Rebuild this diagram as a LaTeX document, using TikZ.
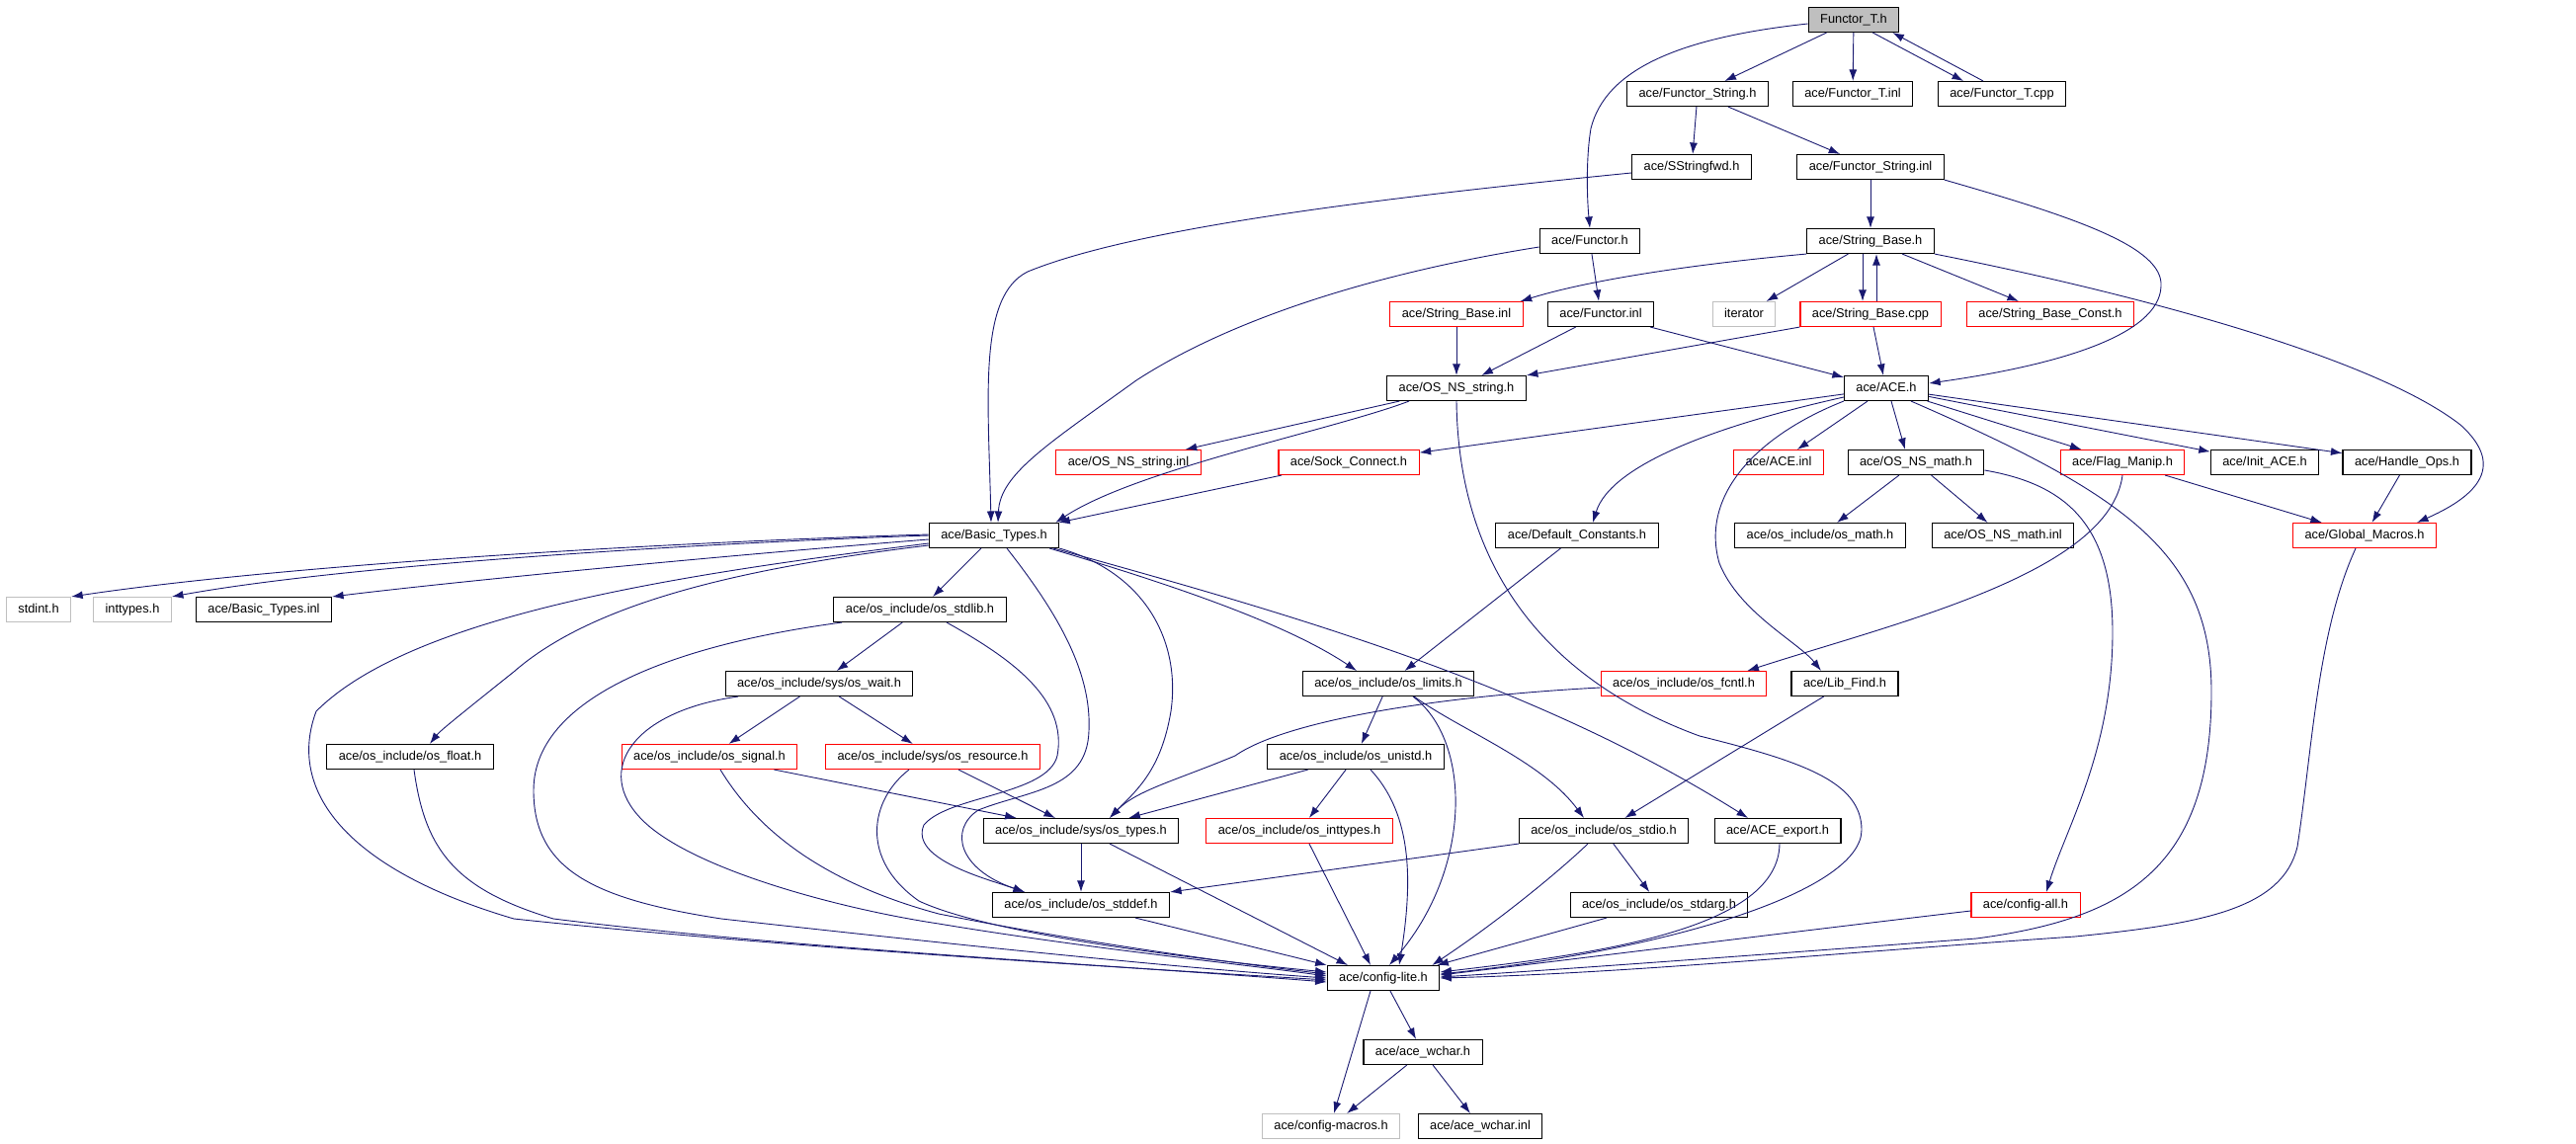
\documentclass[tikz,border=0pt]{standalone}
\usepackage{fontspec}
\setmainfont{Liberation Sans}
\usepackage{tikz}
\usetikzlibrary{arrows.meta}
\definecolor{edgeblue}{HTML}{191970}
\definecolor{extred}{HTML}{FF0000}
\definecolor{sysgray}{HTML}{BFBFBF}

\begin{document}
\begin{tikzpicture}[
		x=1pt, y=-1pt,
		box/.style={
			draw=black,
			line width=1.1pt,
			inner xsep=12pt,
			inner ysep=0pt,
			minimum height=25pt,
			text height=9.5pt,
			text depth=2.7pt,
			font=\fontsize{12.8}{15}\selectfont
		},
		redbox/.style={box, draw=extred},
		graybox/.style={box, draw=sysgray},
		curbox/.style={box, fill=sysgray},
		dep/.style={
			draw=edgeblue,
			line width=0.9pt,
			-{Latex[length=11.5pt,width=8pt]}
		}
		]
		
		\useasboundingbox (0,0) rectangle (2607,1157);
		
		\node[curbox] at (1876, 20) (ft) {Functor\_T.h};
		
		\node[box] at (1718, 95) (fs) {ace/Functor\_String.h};
		\node[box] at (1875, 95) (fti) {ace/Functor\_T.inl};
		\node[box] at (2026, 95) (ftc) {ace/Functor\_T.cpp};
		
		\node[box] at (1712, 169) (ssf) {ace/SStringfwd.h};
		\node[box] at (1893, 169) (fsi) {ace/Functor\_String.inl};
		
		\node[box] at (1609, 244) (fun) {ace/Functor.h};
		\node[box] at (1893, 244) (sb) {ace/String\_Base.h};
		
		\node[redbox] at (1474, 318) (sbi) {ace/String\_Base.inl};
		\node[box] at (1620, 318) (funi) {ace/Functor.inl};
		\node[graybox] at (1765, 318) (iter) {iterator};
		\node[redbox] at (1893, 318) (sbc) {ace/String\_Base.cpp};
		\node[redbox] at (2075, 318) (sbk) {ace/String\_Base\_Const.h};
		
		\node[box] at (1474, 393) (nss) {ace/OS\_NS\_string.h};
		\node[box] at (1909, 393) (ace) {ace/ACE.h};
		
		\node[redbox] at (1142, 468) (nssi) {ace/OS\_NS\_string.inl};
		\node[redbox] at (1365, 468) (sock) {ace/Sock\_Connect.h};
		\node[redbox] at (1800, 468) (acei) {ace/ACE.inl};
		\node[box] at (1939, 468) (nsm) {ace/OS\_NS\_math.h};
		\node[redbox] at (2148, 468) (flag) {ace/Flag\_Manip.h};
		\node[box] at (2292, 468) (iace) {ace/Init\_ACE.h};
		\node[box] at (2436, 468) (hops) {ace/Handle\_Ops.h};
		
		\node[box] at (1006, 542) (bt) {ace/Basic\_Types.h};
		\node[box] at (1596, 542) (defc) {ace/Default\_Constants.h};
		\node[box] at (1842, 542) (osm) {ace/os\_include/os\_math.h};
		\node[box] at (2027, 542) (nsmi) {ace/OS\_NS\_math.inl};
		\node[redbox] at (2393, 542) (gm) {ace/Global\_Macros.h};
		
		\node[graybox] at (39, 617) (stdint) {stdint.h};
		\node[graybox] at (134, 617) (intt) {inttypes.h};
		\node[box] at (267, 617) (bti) {ace/Basic\_Types.inl};
		\node[box] at (931, 617) (stdlib) {ace/os\_include/os\_stdlib.h};
		
		\node[box] at (829, 692) (wait) {ace/os\_include/sys/os\_wait.h};
		\node[box] at (1405, 692) (limits) {ace/os\_include/os\_limits.h};
		\node[redbox] at (1704, 692) (fcntl) {ace/os\_include/os\_fcntl.h};
		\node[box] at (1867, 692) (lib) {ace/Lib\_Find.h};
		
		\node[box] at (415, 766) (float) {ace/os\_include/os\_float.h};
		\node[redbox] at (718, 766) (signal) {ace/os\_include/os\_signal.h};
		\node[redbox] at (944, 766) (res) {ace/os\_include/sys/os\_resource.h};
		\node[box] at (1372, 766) (unistd) {ace/os\_include/os\_unistd.h};
		
		\node[box] at (1094, 841) (types) {ace/os\_include/sys/os\_types.h};
		\node[redbox] at (1315, 841) (intty) {ace/os\_include/os\_inttypes.h};
		\node[box] at (1623, 841) (stdio) {ace/os\_include/os\_stdio.h};
		\node[box] at (1799, 841) (exp) {ace/ACE\_export.h};
		
		\node[box] at (1094, 916) (stddef) {ace/os\_include/os\_stddef.h};
		\node[box] at (1679, 916) (stdarg) {ace/os\_include/os\_stdarg.h};
		\node[redbox] at (2050, 916) (cfgall) {ace/config-all.h};
		
		\node[box] at (1400, 990) (cfg) {ace/config-lite.h};
		\node[box] at (1440, 1065) (wch) {ace/ace\_wchar.h};
		\node[graybox] at (1347, 1140) (macros) {ace/config-macros.h};
		\node[box] at (1498, 1140) (wchi) {ace/ace\_wchar.inl};
		
		\draw[dep] (ft) -- (fs);
		\draw[dep] (ft) -- (fti);
		\draw[dep] ([xshift=-27pt]ft.south east) -- ([xshift=-39pt]ftc.north);
		\draw[dep] ([xshift=-19pt]ftc.north) -- ([xshift=-7pt]ft.south east);
		\draw[dep] ([yshift=-4pt]ft.west) .. controls (1700,38) and (1625,70) .. (1610,130) .. controls (1605,160) and (1606,200) .. (fun.north);
		\draw[dep] (fs) -- (ssf);
		\draw[dep] (fs) -- (fsi);
		\draw[dep] ([yshift=-6pt]ssf.west) .. controls (1400,200) and (1150,230) .. (1040,275) .. controls (990,300) and (1000,400) .. ([xshift=-3pt]bt.north);
		\draw[dep] (fun) -- (funi);
		\draw[dep] ([yshift=-6pt]fun.west) .. controls (1400,275) and (1250,320) .. (1150,385) .. controls (1060,450) and (1012,480) .. ([xshift=4pt]bt.north);
		\draw[dep] (fsi) -- (sb);
		\draw[dep] (fsi.south east) .. controls (2100,220) and (2190,250) .. (2187,290) .. controls (2185,340) and (2080,370) .. ([yshift=5pt]ace.east);
		
		\draw[dep] (sb.south west) .. controls (1740,265) and (1620,280) .. ([xshift=-3pt]sbi.north east);
		\draw[dep] (sb) -- (iter);
		\draw[dep] ([xshift=-8pt]sb.south) -- ([xshift=-8pt]sbc.north);
		\draw[dep] ([xshift=6pt]sbc.north) -- ([xshift=6pt]sb.south);
		\draw[dep] (sb) -- (sbk);
		\draw[dep] (sb.south east) .. controls (2150,295) and (2400,360) .. (2490,430) .. controls (2540,475) and (2500,505) .. ([xshift=-20pt]gm.north east);
		\draw[dep] (sbi) -- (nss);
		\draw[dep] (funi) -- (nss);
		\draw[dep] (funi) -- (ace);
		\draw[dep] (sbc.south west) -- (nss.north east);
		\draw[dep] ([xshift=3pt]sbc.south) -- ([xshift=-3pt]ace.north);
		
		\draw[dep] (nss) -- (nssi);
		\draw[dep] ([xshift=-48pt]nss.south) .. controls (1350,435) and (1150,475) .. ([xshift=-4pt]bt.north east);
		\draw[dep] ([xshift=-68pt]sock.south) -- ([xshift=-1pt]bt.north east);
		\draw[dep] (nss.south) .. controls (1476,580) and (1570,690) .. (1720,745) .. controls (1820,770) and (1884,790) .. (1884,840) .. controls (1884,900) and (1700,960) .. ([yshift=4pt]cfg.east);
		
		\draw[dep] (ace) -- (sock);
		\draw[dep] ([yshift=-9pt]ace.west) .. controls (1740,430) and (1630,470) .. ([xshift=16pt]defc.north);
		\draw[dep] (ace.south west) .. controls (1780,440) and (1720,500) .. (1740,570) .. controls (1760,620) and (1820,650) .. ([xshift=-24pt]lib.north);
		\draw[dep] (ace) -- (acei);
		\draw[dep] ([xshift=5pt]ace.south) -- ([xshift=-11pt]nsm.north);
		\draw[dep] ([xshift=25pt]ace.south) .. controls (2150,500) and (2238,560) .. (2238,700) .. controls (2238,880) and (2150,930) .. (2000,950) .. controls (1800,965) and (1600,980) .. ([yshift=1pt]cfg.east);
		\draw[dep] (ace) -- (flag);
		\draw[dep] (ace) -- (iace);
		\draw[dep] (ace) -- (hops);
		
		\draw[dep] (nsm) -- (osm);
		\draw[dep] (nsm) -- (nsmi);
		\draw[dep] ([yshift=-8pt]nsm.east) .. controls (2090,490) and (2138,530) .. (2138,640) .. controls (2138,760) and (2090,840) .. ([xshift=21pt]cfgall.north);
		\draw[dep] (flag) -- (gm);
		\draw[dep] (flag.south) .. controls (2135,580) and (1920,630) .. ([xshift=-20pt]fcntl.north east);
		\draw[dep] (hops) -- (gm);
		\draw[dep] ([xshift=-9pt]gm.south) .. controls (2345,640) and (2340,760) .. (2325,857) .. controls (2310,920) and (2230,935) .. (2100,948) .. controls (1850,965) and (1650,985) .. (cfg.east);
		
		\draw[dep] ([yshift=1pt]bt.west) .. controls (700,548) and (300,570) .. (stdint.north east);
		\draw[dep] (bt.west) .. controls (700,550) and (350,572) .. (intt.north east);
		\draw[dep] ([yshift=-4pt]bt.west) .. controls (700,565) and (450,590) .. (bti.north east);
		\draw[dep] ([yshift=-10pt]bt.west) .. controls (750,575) and (600,610) .. (520,680) .. controls (470,720) and (445,740) .. ([xshift=20pt]float.north);
		\draw[dep] ([yshift=-8pt]bt.west) .. controls (700,580) and (420,620) .. (320,720) .. controls (290,800) and (350,880) .. (520,930) .. controls (800,960) and (1150,980) .. ([yshift=-2pt]cfg.west);
		\draw[dep] (bt) -- (stdlib);
		\draw[dep] ([xshift=13pt]bt.south) .. controls (1070,620) and (1105,680) .. (1102,740) .. controls (1100,800) and (1040,800) .. (990,820) .. controls (960,840) and (970,880) .. ([xshift=-57pt]stddef.north);
		\draw[dep] (bt.south east) .. controls (1160,580) and (1195,650) .. (1185,720) .. controls (1175,780) and (1150,800) .. ([xshift=29pt]types.north);
		\draw[dep] ([xshift=-10pt]bt.south east) .. controls (1180,590) and (1300,630) .. ([xshift=-32pt]limits.north);
		\draw[dep] ([xshift=-6pt]bt.south east) .. controls (1300,620) and (1550,690) .. ([xshift=-30pt]exp.north);
		
		\draw[dep] (stdlib) -- (wait);
		\draw[dep] ([xshift=27pt]stdlib.south) .. controls (1030,670) and (1080,710) .. (1070,765) .. controls (1060,805) and (960,805) .. (935,835) .. controls (920,870) and (1000,890) .. ([xshift=-57pt]stddef.north);
		\draw[dep] ([xshift=-79pt]stdlib.south) .. controls (700,650) and (540,700) .. (540,800) .. controls (540,880) and (600,910) .. (730,930) .. controls (1000,960) and (1200,980) .. (cfg.west);
		\draw[dep] (wait) -- (signal);
		\draw[dep] (wait) -- (res);
		\draw[dep] ([xshift=-82pt]wait.south) .. controls (640,720) and (600,780) .. (650,830) .. controls (700,880) and (850,920) .. (950,935) .. controls (1100,960) and (1250,975) .. ([yshift=2pt]cfg.west);
		\draw[dep] ([xshift=4pt]float.south) .. controls (430,860) and (460,900) .. (560,930) .. controls (800,960) and (1100,975) .. ([yshift=-4pt]cfg.west);
		\draw[dep] (signal) -- (types);
		\draw[dep] ([xshift=11pt]signal.south) .. controls (760,830) and (820,890) .. (950,925) .. controls (1100,955) and (1250,975) .. ([yshift=4pt]cfg.west);
		\draw[dep] (res) -- (types);
		\draw[dep] ([xshift=-24pt]res.south) .. controls (880,810) and (870,870) .. (930,912) .. controls (1000,945) and (1200,970) .. ([yshift=6pt]cfg.west);
		
		\draw[dep] (unistd) -- (types);
		\draw[dep] (unistd) -- (intty);
		\draw[dep] ([xshift=15pt]unistd.south) .. controls (1425,820) and (1432,880) .. ([xshift=16pt]cfg.north);
		\draw[dep] (limits) -- (unistd);
		\draw[dep] ([xshift=26pt]limits.south) .. controls (1480,740) and (1560,770) .. ([xshift=-20pt]stdio.north);
		\draw[dep] ([xshift=25pt]limits.south) .. controls (1490,750) and (1490,880) .. ([xshift=6pt]cfg.north);
		\draw[dep] (defc) -- (limits);
		\draw[dep] ([yshift=-4pt]fcntl.west) .. controls (1450,705) and (1300,730) .. (1250,765) .. controls (1190,790) and (1150,800) .. ([xshift=29pt]types.north);
		\draw[dep] (lib) -- (stdio);
		
		\draw[dep] (stdio.south west) -- (stddef.north east);
		\draw[dep] (stdio) -- (stdarg);
		\draw[dep] ([xshift=-16pt]stdio.south) .. controls (1580,880) and (1520,930) .. ([xshift=-8pt]cfg.north east);
		\draw[dep] ([xshift=-53pt]stdarg.south) -- ([xshift=-3pt]cfg.north east);
		\draw[dep] ([xshift=2pt]exp.south) .. controls (1800,940) and (1620,965) .. ([yshift=6pt]cfg.east);
		\draw[dep] ([yshift=-6pt]cfgall.west) .. controls (1800,945) and (1600,970) .. ([yshift=3pt]cfg.east);
		
		\draw[dep] (types) -- (stddef);
		\draw[dep] ([xshift=29pt]types.south) -- ([xshift=-36pt]cfg.north);
		\draw[dep] ([xshift=55pt]stddef.south) -- (cfg.north west);
		\draw[dep] ([xshift=10pt]intty.south) -- ([xshift=-13pt]cfg.north);
		
		\draw[dep] (cfg) -- (wch);
		\draw[dep] ([xshift=-13pt]cfg.south) -- ([xshift=3pt]macros.north);
		\draw[dep] (wch) -- (macros);
		\draw[dep] (wch) -- (wchi);
		
		\end{tikzpicture}
\end{document}
